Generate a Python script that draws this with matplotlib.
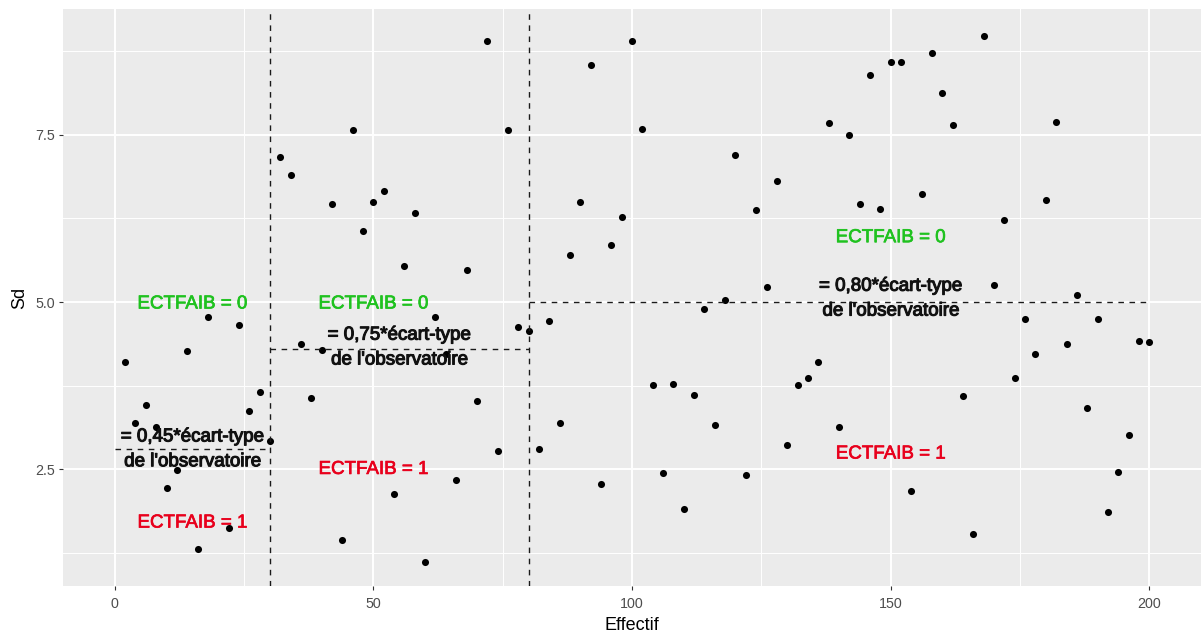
import matplotlib
matplotlib.use("Agg")
import matplotlib.pyplot as plt
import matplotlib.patheffects as pe

plt.rcParams['font.family'] = ['Liberation Sans', 'DejaVu Sans']

effectif = [2, 4, 6, 8, 10, 12, 14, 16, 18, 22, 24, 26, 28, 30,
            32, 34, 36, 38, 40, 42, 44, 46, 48, 50, 52, 54, 56, 58, 60,
            62, 64, 66, 68, 70, 72, 74, 76, 78, 80,
            82, 84, 86, 88, 90, 92, 94, 96, 98, 100, 102, 104, 106, 108,
            110, 112, 114, 116, 118, 120, 122, 124, 126, 128, 130, 132,
            134, 136, 138, 140, 142, 144, 146, 148, 150, 152, 154, 156,
            158, 160, 162, 164, 166, 168, 170, 172, 174, 176, 178, 180,
            182, 184, 186, 188, 190, 192, 194, 196, 198, 200]
sd = [4.10, 3.20, 3.46, 3.13, 2.22, 2.49, 4.27, 1.31, 4.77, 1.63, 4.65, 3.37, 3.65, 2.93,
      7.16, 6.90, 4.38, 3.57, 4.29, 6.46, 1.44, 7.57, 6.06, 6.50, 6.65, 2.14, 5.54, 6.33, 1.12,
      4.78, 4.23, 2.35, 5.48, 3.52, 8.89, 2.78, 7.57, 4.62, 4.57,
      2.80, 4.71, 3.19, 5.70, 6.50, 8.54, 2.29, 5.85, 6.27, 8.89, 7.59, 3.76, 2.44, 3.78,
      1.91, 3.61, 4.90, 3.16, 5.03, 7.20, 2.41, 6.37, 5.22, 6.80, 2.87, 3.76,
      3.87, 4.10, 7.67, 3.14, 7.50, 6.46, 8.39, 6.39, 8.59, 8.59, 2.18, 6.61,
      8.72, 8.12, 7.65, 3.59, 1.53, 8.97, 5.25, 6.22, 3.87, 4.74, 4.22, 6.52,
      7.68, 4.38, 5.10, 3.42, 4.74, 1.86, 2.46, 3.02, 4.42, 4.40]

vline_x = [30, 80]
seg_x0 = [0, 30, 80]
seg_x1 = [30, 80, 200]
seg_y = [2.8, 4.3, 5.0]

lab0_x = [15, 50, 150]
lab0_y = [4.97, 4.97, 5.96]
lab1_x = [15, 50, 150]
lab1_y = [1.70, 2.50, 2.73]
note_x = [15, 55, 150]
note_y = [2.80, 4.32, 5.05]
note_txt = ["= 0,45*écart-type\nde l'observatoire",
            "= 0,75*écart-type\nde l'observatoire",
            "= 0,80*écart-type\nde l'observatoire"]

fig = plt.figure(figsize=(12.01, 6.41), dpi=100)
ax = fig.add_axes([0.0525, 0.0858, 0.9475, 0.8997])
ax.set_facecolor('#EBEBEB')
for s in ax.spines.values():
    s.set_visible(False)

ax.set_xlim(-10, 210)
ax.set_ylim(0.76, 9.37)
ax.set_xticks([0, 50, 100, 150, 200])
ax.set_xticks([25, 75, 125, 175], minor=True)
ax.set_yticks([2.5, 5.0, 7.5])
ax.set_yticklabels(['2.5', '5.0', '7.5'])
ax.set_yticks([1.25, 3.75, 6.25, 8.75], minor=True)
ax.grid(which='major', color='white', linewidth=1.4)
ax.grid(which='minor', color='white', linewidth=0.7)
ax.set_axisbelow(True)
ax.tick_params(which='major', length=3, width=0.8, color='#333333',
               labelsize=10.3, labelcolor='#4D4D4D')
ax.tick_params(axis='x', which='major', pad=5)
ax.tick_params(axis='y', which='major', pad=3)
ax.tick_params(which='minor', length=0)

ax.scatter(effectif, sd, s=26, color='black', zorder=3, linewidths=0)

for xv in vline_x:
    ax.axvline(xv, color='#1A1A1A', linewidth=1.0, linestyle=(0, (4, 4)), zorder=4)
for x0, x1, yv in zip(seg_x0, seg_x1, seg_y):
    ax.plot([x0, x1], [yv, yv], color='#1A1A1A', linewidth=1.0,
            linestyle=(0, (4, 4)), zorder=4)

fx_g = [pe.withStroke(linewidth=0.5, foreground='#1FC21F')]
fx_r = [pe.withStroke(linewidth=0.5, foreground='#E8001C')]
fx_k = [pe.withStroke(linewidth=0.8, foreground='#111111')]
for x, y in zip(lab0_x, lab0_y):
    ax.text(x, y, 'ECTFAIB = 0', color='#1FC21F', fontsize=13.5,
            ha='center', va='center', zorder=5, path_effects=fx_g)
for x, y in zip(lab1_x, lab1_y):
    ax.text(x, y, 'ECTFAIB = 1', color='#E8001C', fontsize=13.5,
            ha='center', va='center', zorder=5, path_effects=fx_r)
for x, y, t in zip(note_x, note_y, note_txt):
    ax.text(x, y, t, color='#111111', fontsize=13.5, ha='center', va='center',
            linespacing=1.6, zorder=5, path_effects=fx_k)

ax.set_xlabel('Effectif', fontsize=13, color='black', labelpad=4)
ax.set_ylabel('Sd', fontsize=13, color='black', labelpad=5)

fig.savefig('out.png', dpi=100, facecolor='white')
